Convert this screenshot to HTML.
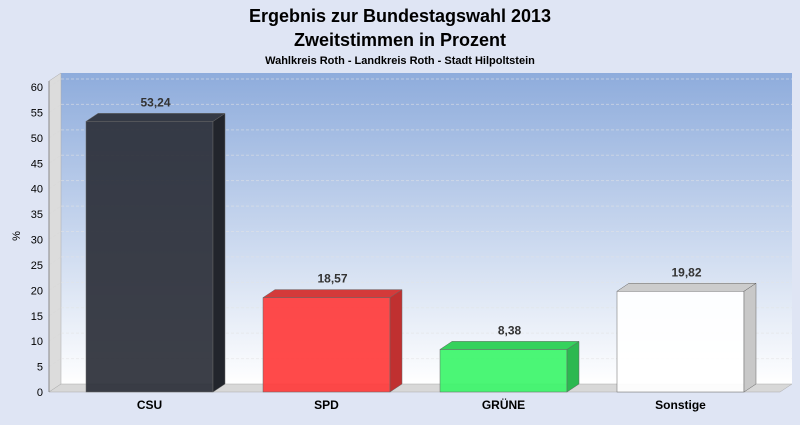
<!DOCTYPE html>
<html><head><meta charset="utf-8"><style>
body{margin:0;width:800px;height:420px;background:#dfe5f4;font-family:"Liberation Sans",sans-serif;overflow:hidden}
</style></head><body>
<svg width="800" height="420" xmlns="http://www.w3.org/2000/svg">
<defs>
<linearGradient id="wall" x1="0" y1="0" x2="0" y2="1"><stop offset="0" stop-color="#8eacdc"/><stop offset="1" stop-color="#ffffff"/></linearGradient>
</defs>
<text x="400" y="22" text-anchor="middle" font-size="18" font-weight="bold">Ergebnis zur Bundestagswahl 2013</text>
<text x="400" y="46" text-anchor="middle" font-size="18" font-weight="bold">Zweitstimmen in Prozent</text>
<text x="400" y="64" text-anchor="middle" font-size="11" font-weight="bold">Wahlkreis Roth - Landkreis Roth - Stadt Hilpoltstein</text>
<rect x="61" y="73" width="731" height="311" fill="url(#wall)"/>
<polygon points="49,81 61,73 61,384 49,392" fill="#dcdcdc" stroke="#aaa" stroke-width="0.5"/>
<polygon points="49,392 61,384 792,384 780,392" fill="#d8d8d8" stroke="#aaa" stroke-width="0.5"/>
<g id="grid"></g>
<g id="bars"></g>
<text x="20" y="236" font-size="11" transform="rotate(-90 20 236)" text-anchor="middle">%</text>
<line x1="49" y1="81" x2="49" y2="392" stroke="#888"/>
</svg>
<script>
const categories=["CSU","SPD","GRÜNE","Sonstige"];
const values=[53.24,18.57,8.38,19.82];
const labels=["53,24","18,57","8,38","19,82"];
const colors=["#2b2f38","#ff3b3b","#3cf56a","#ffffff"];
const sideColors=["#22252c","#c03030","#2cb850","#c8c8c8"];
const topColors=["#353a45","#d43a3a","#35d25c","#cccccc"];
const ticks=[0,5,10,15,20,25,30,35,40,45,50,55,60];
const NS="http://www.w3.org/2000/svg";
const svg=document.querySelector("svg");
const y0=392,ppu=5.083,dx=12,dy=8;
const y=v=>y0-v*ppu;
const xc=i=>149.5+i*177;
function mk(t,a,p){const e=document.createElementNS(NS,t);for(const k in a)e.setAttribute(k,a[k]);(p||svg).appendChild(e);return e;}
const grid=document.getElementById("grid"),bars=document.getElementById("bars");
ticks.forEach(t=>{
  const yy=y(t);
  if(t>0){const g=mk("line",{x1:49,y1:yy,x2:61,y2:yy-dy,stroke:"#d8d8d8","stroke-dasharray":"3,2","stroke-opacity":0.6},grid);
  
  
  const g2=mk("line",{x1:61,y1:yy-dy,x2:792,y2:yy-dy,stroke:"#e4e4e4","stroke-dasharray":"3,2","stroke-opacity":0.55},grid);
  
  }
  const tk=mk("text",{x:43,y:yy+4,"font-size":11,"text-anchor":"end"});
  tk.textContent=t;
  
  
});
values.forEach((v,i)=>{
  const l=xc(i)-63.5,r=xc(i)+63.5,t=y(v);
  const g=mk("g",{},bars);
  
  
  mk("rect",{x:l,y:t,width:r-l,height:y0-t,fill:colors[i],"fill-opacity":0.92,stroke:"#666","stroke-width":0.5},g);
  mk("polygon",{points:`${r},${t} ${r+dx},${t-dy} ${r+dx},${y0-dy} ${r},${y0}`,fill:sideColors[i],stroke:"#666","stroke-width":0.5},g);
  mk("polygon",{points:`${l},${t} ${l+dx},${t-dy} ${r+dx},${t-dy} ${r},${t}`,fill:topColors[i],stroke:"#666","stroke-width":0.5},g);
  const lb=mk("text",{x:xc(i)+6,y:t-15,"font-size":12,"font-weight":"bold","text-anchor":"middle",fill:"#333"});
  lb.textContent=labels[i];
  
  
  const c=mk("text",{x:xc(i),y:409,"font-size":12,"font-weight":"bold","text-anchor":"middle"});
  c.textContent=categories[i];
  
  
});
</script>
</body></html>
